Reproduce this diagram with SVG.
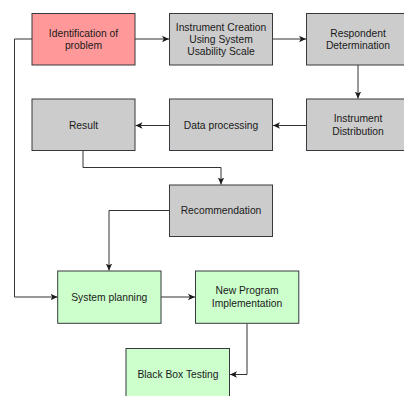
<svg xmlns="http://www.w3.org/2000/svg" width="404" height="396" viewBox="0 0 404 396">
<defs>
<marker id="arr" markerWidth="8" markerHeight="8" refX="7" refY="4" orient="auto" markerUnits="userSpaceOnUse">
<path d="M0,0.8 L7,4 L0,7.2 L1.8,4 Z" fill="#1a1a1a"/>
</marker>
<style>
.n rect{stroke:#36393d;stroke-width:1}
.r rect{fill:#ff9999}
.g rect{fill:#cccccc}
.gr rect{fill:#ccffcc}
text{font-family:"Liberation Sans",Arial,sans-serif;font-size:10.3px;fill:#1a1a1a;text-anchor:middle}
.c path{fill:none;stroke:#333333;stroke-width:1;marker-end:url(#arr)}
</style>
</defs>
<rect width="404" height="396" fill="#ffffff"/>
<g class="c" id="connectors">
<path d="M135,39 H169"/>
<path d="M272.5,39 H306"/>
<path d="M358,65 V98.5"/>
<path d="M306.5,125.5 H273"/>
<path d="M169.5,125.5 H135.5"/>
<path d="M83,151 V167.5 H221 V184.5"/>
<path d="M169.5,210.5 H109 V270.5"/>
<path d="M32,39 H14.5 V297 H57.5"/>
<path d="M161,297 H195"/>
<path d="M247,323.5 V374.5 H230"/>
</g>
<g id="n1" class="n r"><rect x="32" y="13.5" width="103" height="51.5"/><text x="83.5" y="37">Identification of</text><text x="83.5" y="48.8">problem</text></g>
<g id="n2" class="n g"><rect x="169.5" y="13.5" width="103" height="51.5"/><text x="221" y="30.6">Instrument Creation</text><text x="221" y="42.9">Using System</text><text x="221" y="55.2">Usability Scale</text></g>
<g id="n3" class="n g"><rect x="306.5" y="13.5" width="103" height="51.5"/><text x="358" y="36.6">Respondent</text><text x="358" y="48.8">Determination</text></g>
<g id="n4" class="n g"><rect x="306.5" y="99" width="103" height="51.5"/><text x="358" y="122">Instrument</text><text x="358" y="134.6">Distribution</text></g>
<g id="n5" class="n g"><rect x="169.5" y="99" width="103" height="51.5"/><text x="221" y="129">Data processing</text></g>
<g id="n6" class="n g"><rect x="32" y="99" width="103" height="51.5"/><text x="83.5" y="129">Result</text></g>
<g id="n7" class="n g"><rect x="169.5" y="185" width="103" height="51.5"/><text x="221" y="214.2">Recommendation</text></g>
<g id="n8" class="n gr"><rect x="57.7" y="271" width="103.3" height="52.3"/><text x="109.3" y="300.5">System planning</text></g>
<g id="n9" class="n gr"><rect x="195.5" y="271" width="103.3" height="52.3"/><text x="247" y="294.4">New Program</text><text x="247" y="306.9">Implementation</text></g>
<g id="n10" class="n gr"><rect x="126" y="348.5" width="103.5" height="52"/><text x="178" y="377.9">Black Box Testing</text></g>
</svg>
